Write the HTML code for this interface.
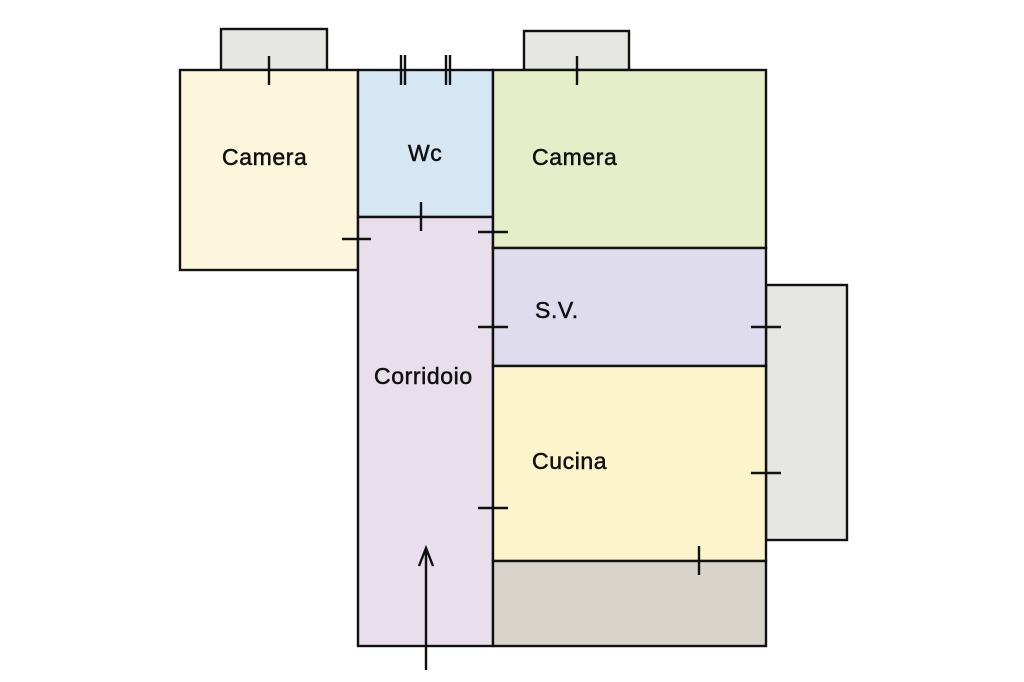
<!DOCTYPE html>
<html><head><meta charset="utf-8"><style>
html,body{margin:0;padding:0;background:#fff;}
svg{display:block}
text{font-family:"Liberation Sans",sans-serif;font-size:23px;fill:#111;stroke:#111;stroke-width:0.5;letter-spacing:0.6px}
</style></head><body>
<svg width="1024" height="682" viewBox="0 0 1024 682" xmlns="http://www.w3.org/2000/svg">
<g stroke="#111" stroke-width="2.4">
<rect x="221" y="29" width="106" height="41" fill="#e6e6e2"/>
<rect x="524" y="31" width="105" height="39" fill="#e6e6e2"/>
<rect x="766" y="285" width="81" height="255" fill="#e6e6e2"/>
<rect x="180" y="70" width="178" height="200" fill="#fbf6dc"/>
<rect x="358" y="70" width="135" height="147" fill="#d6e6f3"/>
<rect x="358" y="217" width="135" height="429" fill="#e8deec"/>
<rect x="493" y="70" width="273" height="178" fill="#e6edc9"/>
<rect x="493" y="248" width="273" height="118" fill="#dfdcee"/>
<rect x="493" y="366" width="273" height="195" fill="#fcf5cc"/>
<rect x="493" y="561" width="273" height="85" fill="#d8d4cc"/>
<path d="M269 56V85M577 56V85M401 55V85M405 55V85M446 55V85M450 55V85M421 202V231M342 239H371M478 232H508M478 327H508M478 508H508M751 327H781M751 473H781M699 546V575" fill="none"/>
<path d="M426 670V550M419 566L426 548L433 566" fill="none"/>
</g>
<text x="222" y="165">Camera</text>
<text x="408" y="161">Wc</text>
<text x="532" y="165">Camera</text>
<text x="535" y="318">S.V.</text>
<text x="374" y="384">Corridoio</text>
<text x="532" y="469">Cucina</text>
</svg>
</body></html>
